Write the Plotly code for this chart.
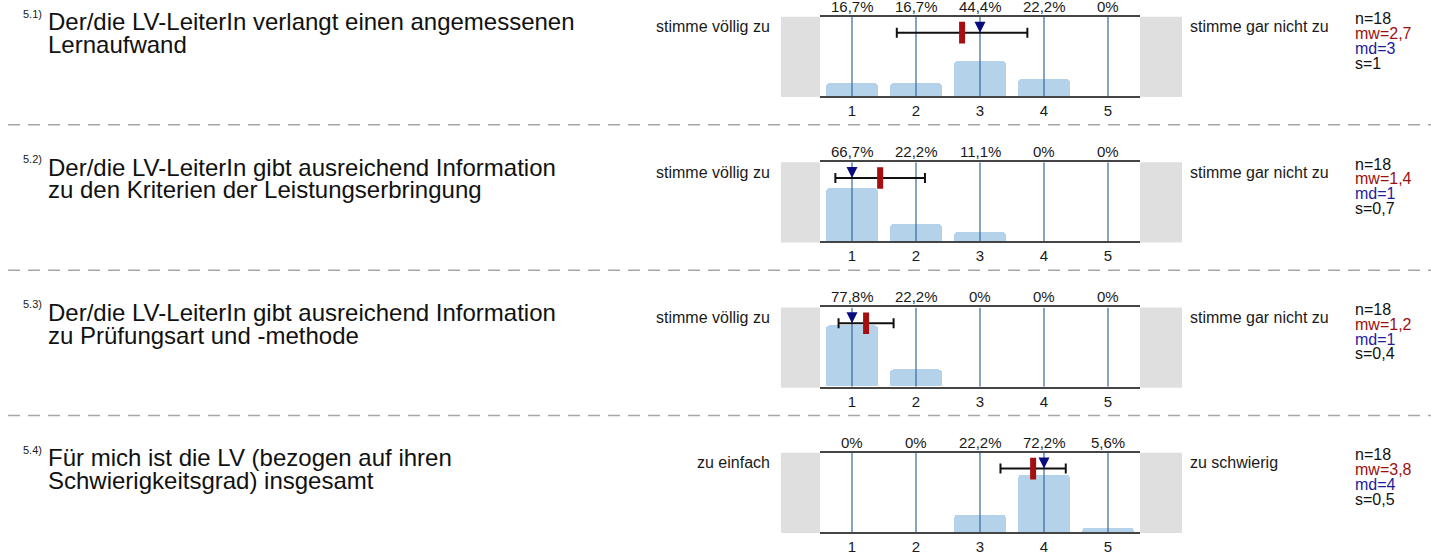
import plotly.graph_objects as go

# ---------------- data ----------------
question_numbers = ["5.1)", "5.2)", "5.3)", "5.4)"]
question_lines = [
    ["Der/die LV-LeiterIn verlangt einen angemessenen", "Lernaufwand"],
    ["Der/die LV-LeiterIn gibt ausreichend Information", "zu den Kriterien der Leistungserbringung"],
    ["Der/die LV-LeiterIn gibt ausreichend Information", "zu Prüfungsart und -methode"],
    ["Für mich ist die LV (bezogen auf ihren", "Schwierigkeitsgrad) insgesamt"],
]
left_labels = ["stimme völlig zu", "stimme völlig zu", "stimme völlig zu", "zu einfach"]
right_labels = ["stimme gar nicht zu", "stimme gar nicht zu", "stimme gar nicht zu", "zu schwierig"]
categories = [1, 2, 3, 4, 5]
pct_q51 = [16.7, 16.7, 44.4, 22.2, 0]
pct_q52 = [66.7, 22.2, 11.1, 0, 0]
pct_q53 = [77.8, 22.2, 0, 0, 0]
pct_q54 = [0, 0, 22.2, 72.2, 5.6]
percentages = [pct_q51, pct_q52, pct_q53, pct_q54]
n_values = [18, 18, 18, 18]
mean_values = [2.72, 1.44, 1.22, 3.83]
median_values = [3, 1, 1, 4]
sd_values = [1.02, 0.70, 0.43, 0.51]

# ---------------- layout constants ----------------
W, H = 1431, 555
TOP0, STEP, PH = 17, 146.6, 80
X0, X1 = 820, 1140
FONT = "Liberation Sans, Arial, sans-serif"
BAR_COLOR = "#b4d3eb"
VLINE_COLOR = "#36679f"
MEAN_COLOR = "#a50f0f"
MEDIAN_COLOR = "#0b0b80"
MW_TEXT = "#9a1010"
MD_TEXT = "#1c1c9c"


def px_y(p):
    return 1 - p / H


def px_x(p):
    return p / W


def fmt(v):
    s = f"{round(v, 1):.1f}"
    if s.endswith(".0"):
        s = s[:-2]
    return s.replace(".", ",")


fig = go.Figure()
shapes = []
annotations = []

for i in range(4):
    sfx = "" if i == 0 else str(i + 1)
    xa, ya = "x" + sfx, "y" + sfx
    top = TOP0 + i * STEP
    pct = percentages[i]

    # grey side boxes
    shapes.append(dict(type="rect", xref="paper", yref="paper",
                       x0=px_x(781), x1=px_x(X0), y0=px_y(top + PH + 1), y1=px_y(top),
                       fillcolor="#dfdfdf", line=dict(width=0), layer="below"))
    shapes.append(dict(type="rect", xref="paper", yref="paper",
                       x0=px_x(X1), x1=px_x(1182), y0=px_y(top + PH + 1), y1=px_y(top),
                       fillcolor="#dfdfdf", line=dict(width=0), layer="below"))

    fig.add_trace(go.Bar(x=categories, y=pct, width=0.8, xaxis=xa, yaxis=ya,
                         marker=dict(color=BAR_COLOR, line=dict(width=0), cornerradius=4),
                         hoverinfo="skip", showlegend=False))
    vx, vy = [], []
    for c in categories:
        vx += [c, c, None]
        vy += [0, 100, None]
    fig.add_trace(go.Scatter(x=vx, y=vy, mode="lines", xaxis=xa, yaxis=ya,
                             line=dict(color=VLINE_COLOR, width=1.2),
                             hoverinfo="skip", showlegend=False))
    # error bar mean +- s
    fig.add_trace(go.Scatter(x=[mean_values[i]], y=[80], mode="markers", xaxis=xa, yaxis=ya,
                             marker=dict(size=1, color="rgba(0,0,0,0)"),
                             error_x=dict(type="data", array=[sd_values[i]], color="#111111",
                                          thickness=2, width=5),
                             hoverinfo="skip", showlegend=False))
    # median
    fig.add_trace(go.Scatter(x=[median_values[i]], y=[80], mode="markers", xaxis=xa, yaxis=ya,
                             marker=dict(symbol="arrow-down", size=11, color=MEDIAN_COLOR,
                                         line=dict(width=0)),
                             hoverinfo="skip", showlegend=False))
    # mean
    fig.add_trace(go.Scatter(x=[mean_values[i]], y=[80], mode="markers", xaxis=xa, yaxis=ya,
                             marker=dict(symbol="line-ns", size=15.5, color=MEAN_COLOR,
                                         line=dict(width=6, color=MEAN_COLOR)),
                             hoverinfo="skip", showlegend=False))

    fig.layout["xaxis" + sfx] = dict(
        domain=[px_x(X0), px_x(X1)], range=[0.5, 5.5], tickvals=categories,
        ticktext=[str(c) for c in categories], showline=True, mirror=True,
        linecolor="#454545", linewidth=2, showgrid=False, zeroline=False, ticks="",
        tickfont=dict(size=15, color="#1a1a1a", family=FONT), anchor=ya, fixedrange=True)
    fig.layout["yaxis" + sfx] = dict(
        domain=[px_y(top + PH), px_y(top)], range=[0, 100], visible=False,
        anchor=xa, fixedrange=True)

    # percent labels
    for c, p in zip(categories, pct):
        annotations.append(dict(x=c, y=1, xref=xa, yref=ya + " domain", yanchor="bottom",
                                text=(fmt(p) + "%"), showarrow=False,
                                font=dict(size=15, color="#1a1a1a", family=FONT)))

    # side labels
    annotations.append(dict(x=px_x(772), y=px_y(top + 10), xref="paper", yref="paper",
                            xanchor="right", yanchor="middle", text=left_labels[i],
                            showarrow=False, font=dict(size=16, color="#1a1a1a", family=FONT)))
    annotations.append(dict(x=px_x(1188), y=px_y(top + 10), xref="paper", yref="paper",
                            xanchor="left", yanchor="middle", text=right_labels[i],
                            showarrow=False, font=dict(size=16, color="#1a1a1a", family=FONT)))

    # stats
    stats = [("n=" + str(n_values[i]), "#111111"),
             ("mw=" + fmt(mean_values[i]), MW_TEXT),
             ("md=" + fmt(median_values[i]), MD_TEXT),
             ("s=" + fmt(sd_values[i]), "#111111")]
    for k, (t, col) in enumerate(stats):
        annotations.append(dict(x=px_x(1353), y=px_y(top + 2 + k * 15), xref="paper", yref="paper",
                                xanchor="left", yanchor="middle", text=t, showarrow=False,
                                font=dict(size=16, color=col, family=FONT)))

    # question number and text
    annotations.append(dict(x=px_x(21), y=px_y(top - 3), xref="paper", yref="paper",
                            xanchor="left", yanchor="middle", text=question_numbers[i],
                            showarrow=False, font=dict(size=11, color="#1a1a1a", family=FONT)))
    for k, line in enumerate(question_lines[i]):
        annotations.append(dict(x=px_x(46), y=px_y(top + 5 + k * 23), xref="paper", yref="paper",
                                xanchor="left", yanchor="middle", text=line, showarrow=False,
                                font=dict(size=24, color="#111111", family=FONT)))

    # dashed separator
    if i < 3:
        yy = px_y(top + 109)
        shapes.append(dict(type="line", xref="paper", yref="paper", x0=px_x(8), x1=1,
                           y0=yy, y1=yy, line=dict(color="#a6a6a6", width=1.5, dash="12px,8px")))

fig.update_layout(width=W, height=H, margin=dict(l=0, r=0, t=0, b=0),
                  paper_bgcolor="white", plot_bgcolor="white",
                  shapes=shapes, annotations=annotations, bargap=0,
                  font=dict(family=FONT), showlegend=False)

fig.write_html("out.html", config={"displayModeBar": False},
               post_script="document.body.style.margin='0';")
